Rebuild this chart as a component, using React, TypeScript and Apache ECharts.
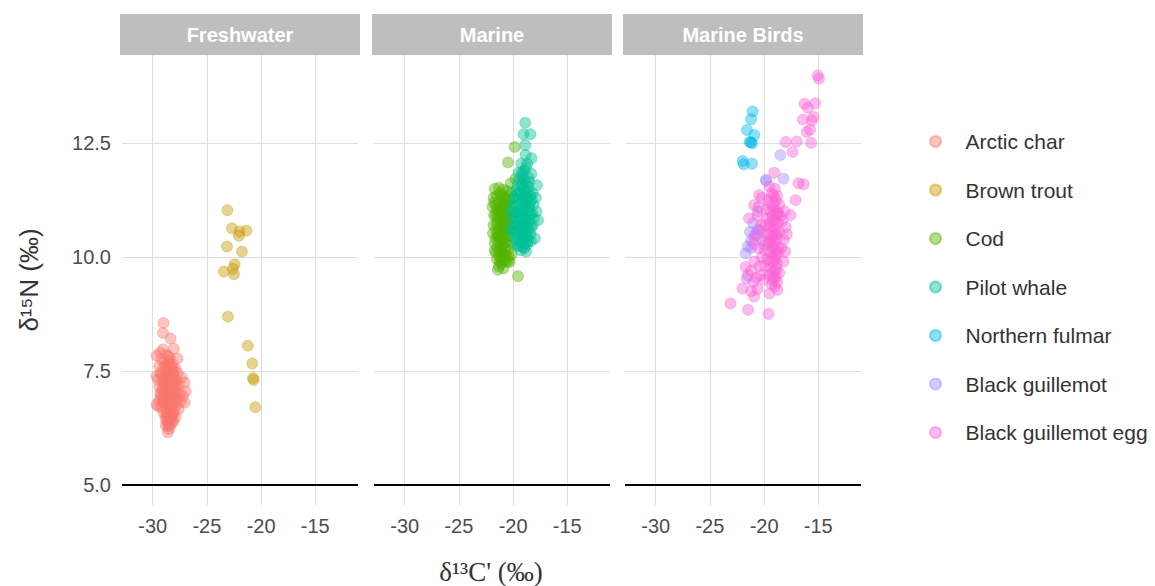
import React, { useEffect, useRef } from "react";
import * as echarts from "echarts";

const panelNames = ["Freshwater", "Marine", "Marine Birds"];
const speciesNames = [
  "Arctic char",
  "Brown trout",
  "Cod",
  "Pilot whale",
  "Northern fulmar",
  "Black guillemot",
  "Black guillemot egg",
];
const speciesColors = ["#F8766D", "#C49A00", "#53B400", "#00C094", "#00B6EB", "#A58AFF", "#FB61D7"];
const speciesPanel = [0, 0, 1, 1, 2, 2, 2];
const xTicks = [-30, -25, -20, -15];
const yTicks = [5, 7.5, 10, 12.5];
const hLineValue = 5;

const arcticChar: number[][] = [
  [-29.0, 8.55], [-29.05, 8.33], [-28.35, 8.21], [-28.05, 7.99], [-29.05, 7.97], [-29.65, 7.83], [-27.7, 7.77],
  [-29.3, 7.9], [-28.7, 7.85], [-29.65, 7.38], [-29.65, 6.76], [-29.5, 6.72], [-27.05, 7.24], [-26.95, 7.05],
  [-27.05, 6.8], [-27.2, 6.95], [-27.3, 7.35], [-28.6, 6.15], [-28.4, 6.29], [-28.2, 6.35], [-28.8, 6.3],
  [-29.2, 7.75], [-28.9, 7.7], [-28.5, 7.72], [-28.2, 7.65], [-29.4, 7.6], [-29.0, 7.55], [-28.6, 7.5],
  [-28.3, 7.52], [-27.9, 7.55], [-29.3, 7.45], [-28.9, 7.4], [-28.5, 7.38], [-28.1, 7.42], [-27.8, 7.3],
  [-29.5, 7.3], [-29.1, 7.28], [-28.7, 7.25], [-28.3, 7.2], [-27.6, 7.2], [-29.4, 7.15], [-29.0, 7.12],
  [-28.6, 7.1], [-28.2, 7.05], [-27.9, 7.08], [-27.5, 7.0], [-29.3, 7.0], [-28.9, 6.98], [-28.5, 6.95],
  [-28.1, 6.9], [-27.7, 6.88], [-29.4, 6.85], [-29.0, 6.82], [-28.6, 6.8], [-28.3, 6.78], [-27.8, 6.75],
  [-27.4, 6.82], [-29.2, 6.7], [-28.8, 6.68], [-28.4, 6.65], [-28.0, 6.62], [-27.6, 6.65], [-29.0, 6.58],
  [-28.6, 6.55], [-28.2, 6.5], [-27.9, 6.48], [-28.8, 6.45], [-28.4, 6.42], [-28.1, 6.4], [-28.6, 6.35],
  [-28.5, 6.22], [-28.8, 7.6], [-28.4, 7.6], [-28.0, 7.3], [-28.8, 7.15], [-28.4, 7.0], [-28.7, 6.9],
  [-28.2, 6.7], [-28.9, 7.0], [-28.5, 7.3], [-28.3, 6.85], [-28.7, 6.6], [-28.0, 7.15], [-29.1, 6.9],
  [-28.3, 7.45], [-27.7, 7.45], [-29.2, 7.4], [-28.6, 7.65], [-28.1, 6.55], [-27.8, 6.9], [-28.4, 6.9],
  [-28.75, 7.48], [-28.45, 7.18], [-28.15, 7.28], [-28.65, 7.02], [-28.35, 6.92], [-28.85, 6.78],
  [-28.55, 6.62], [-28.25, 6.6], [-28.05, 6.82], [-28.75, 6.52], [-28.45, 6.5], [-28.95, 7.22],
  [-28.15, 7.58], [-28.55, 7.82], [-28.85, 7.32], [-28.25, 6.98], [-27.95, 7.0], [-28.5, 6.72],
  [-28.9, 6.88], [-28.3, 6.45], [-28.65, 7.38], [-29.15, 7.08], [-28.05, 7.48], [-28.4, 7.78],
  [-28.7, 6.42], [-28.35, 7.35], [-27.85, 7.2], [-29.25, 6.95], [-28.6, 6.28], [-28.2, 7.12],
];

const brownTrout: number[][] = [
  [-23.11, 11.03], [-22.69, 10.63], [-21.98, 10.56], [-21.36, 10.58], [-22.04, 10.47], [-23.15, 10.23],
  [-21.77, 10.12], [-22.44, 9.84], [-22.6, 9.74], [-23.43, 9.68], [-22.5, 9.62], [-23.06, 8.69],
  [-21.22, 8.05], [-20.81, 7.66], [-20.75, 7.34], [-20.69, 7.3], [-20.53, 6.7],
];

const cod: number[][] = [
  [-19.85, 12.42], [-20.47, 12.08], [-19.77, 11.72], [-20.2, 11.62], [-19.55, 9.58], [-21.31, 9.79],
  [-21.4, 9.72], [-20.32, 9.89], [-21.1, 9.85], [-20.9, 9.75],
  [-21.7, 11.5], [-21.3, 11.52], [-20.9, 11.48], [-20.5, 11.45], [-20.2, 11.4],
  [-21.8, 11.3], [-21.5, 11.35], [-21.1, 11.28], [-20.7, 11.32], [-20.3, 11.25], [-20.0, 11.3],
  [-21.9, 11.1], [-21.6, 11.15], [-21.2, 11.08], [-20.8, 11.12], [-20.4, 11.05], [-20.1, 11.1],
  [-21.75, 10.92], [-21.4, 10.88], [-21.0, 10.95], [-20.6, 10.9], [-20.25, 10.85],
  [-21.8, 10.7], [-21.5, 10.72], [-21.15, 10.68], [-20.75, 10.7], [-20.4, 10.65], [-20.05, 10.72],
  [-21.85, 10.52], [-21.45, 10.48], [-21.05, 10.55], [-20.7, 10.5], [-20.3, 10.45],
  [-21.7, 10.3], [-21.35, 10.32], [-20.95, 10.28], [-20.6, 10.35], [-20.2, 10.3],
  [-21.6, 10.1], [-21.25, 10.12], [-20.85, 10.08], [-20.5, 10.15], [-20.15, 10.05],
  [-21.5, 9.95], [-21.1, 9.98], [-20.7, 9.92], [-20.4, 10.0],
  [-21.2, 11.4], [-20.8, 11.2], [-21.0, 10.8], [-20.5, 10.6], [-21.3, 10.6], [-20.9, 10.4], [-21.1, 10.2],
  [-20.6, 11.0], [-21.6, 10.9], [-20.3, 10.9], [-21.4, 11.0], [-20.8, 10.0], [-21.0, 11.35], [-21.6, 10.4],
  [-20.45, 11.2],
  [-21.3, 11.2], [-20.95, 11.15], [-20.65, 11.25], [-21.45, 10.78], [-21.15, 10.85], [-20.85, 10.82],
  [-20.55, 10.78], [-21.55, 10.58], [-21.2, 10.45], [-20.85, 10.55], [-20.55, 10.45], [-21.4, 10.2],
  [-21.0, 10.1], [-20.7, 10.2], [-21.3, 10.02], [-20.95, 9.9], [-20.65, 10.05], [-21.05, 11.05],
  [-20.75, 10.95], [-21.25, 10.95], [-21.5, 11.05], [-20.9, 10.68], [-21.35, 10.45], [-20.6, 10.62],
  [-21.1, 10.38], [-20.8, 10.3], [-21.7, 10.15], [-21.2, 9.9], [-20.5, 9.9], [-21.75, 11.2],
];

const pilotWhale: number[][] = [
  [-18.88, 12.95], [-19.04, 12.7], [-18.4, 12.7], [-18.88, 12.46], [-18.85, 12.24], [-18.3, 12.17],
  [-19.24, 12.05], [-18.8, 11.97], [-19.12, 11.8], [-18.32, 11.83], [-18.5, 11.65], [-17.8, 11.58],
  [-18.0, 10.41], [-18.8, 10.12], [-17.85, 11.0], [-17.7, 10.81], [-19.3, 10.15], [-19.6, 10.25],
  [-19.6, 11.6], [-19.2, 11.55], [-18.8, 11.62],
  [-19.8, 11.45], [-19.4, 11.42], [-19.0, 11.48], [-18.6, 11.45], [-18.2, 11.4],
  [-19.9, 11.3], [-19.5, 11.28], [-19.1, 11.32], [-18.7, 11.3], [-18.3, 11.25], [-17.9, 11.3],
  [-20.0, 11.15], [-19.7, 11.12], [-19.3, 11.18], [-18.9, 11.15], [-18.5, 11.1], [-18.1, 11.15],
  [-19.85, 11.0], [-19.45, 10.98], [-19.05, 11.02], [-18.65, 11.0], [-18.25, 10.95],
  [-20.1, 10.85], [-19.7, 10.82], [-19.3, 10.88], [-18.9, 10.85], [-18.5, 10.8], [-18.1, 10.85],
  [-19.9, 10.7], [-19.5, 10.68], [-19.1, 10.72], [-18.7, 10.7], [-18.3, 10.65],
  [-20.0, 10.55], [-19.6, 10.52], [-19.2, 10.58], [-18.8, 10.55], [-18.4, 10.5],
  [-19.8, 10.4], [-19.4, 10.38], [-19.0, 10.42], [-18.6, 10.35],
  [-19.5, 10.25], [-19.1, 10.22], [-18.7, 10.28],
  [-19.4, 11.7], [-19.0, 11.7], [-18.6, 11.75], [-19.2, 10.95], [-18.8, 11.2], [-19.6, 10.95], [-18.4, 11.35],
  [-19.0, 10.6], [-18.6, 10.9], [-19.3, 11.4], [-18.2, 10.7], [-19.7, 10.3], [-20.2, 11.0], [-20.2, 10.6],
  [-18.9, 10.3], [-19.2, 11.85], [-18.7, 12.05],
  [-19.35, 11.05], [-19.0, 11.2], [-18.75, 11.08], [-19.55, 10.78], [-19.2, 10.68], [-18.85, 10.72],
  [-18.55, 10.62], [-19.4, 10.5], [-19.05, 10.45], [-18.7, 10.45], [-19.25, 10.32], [-18.95, 10.2],
  [-19.6, 11.38], [-19.15, 11.6], [-18.8, 11.4], [-18.45, 11.2], [-19.75, 10.6], [-18.35, 10.35],
  [-19.5, 11.85], [-18.95, 11.9], [-18.6, 11.55], [-19.0, 10.85], [-18.4, 10.95], [-19.35, 10.62],
];

const northernFulmar: number[][] = [
  [-21.06, 13.2], [-21.2, 13.03], [-21.58, 12.79], [-20.9, 12.68], [-21.34, 12.53], [-21.12, 12.5],
  [-21.98, 12.11], [-21.89, 12.04], [-21.12, 12.05], [-21.2, 12.52],
];

const blackGuillemot: number[][] = [
  [-18.5, 12.24], [-19.83, 11.7], [-18.2, 11.72], [-19.8, 11.67], [-20.6, 11.0], [-21.0, 10.74],
  [-20.6, 10.59], [-21.2, 10.37], [-21.5, 10.23], [-21.7, 10.08], [-20.03, 10.26], [-21.6, 9.53],
  [-20.6, 10.48], [-20.9, 10.45], [-21.3, 10.55], [-20.4, 10.6], [-21.2, 10.2],
];

const guillemotEgg: number[][] = [
  [-15.05, 13.99], [-14.93, 13.92], [-16.27, 13.37], [-15.29, 13.38], [-15.96, 13.28], [-15.44, 13.08],
  [-16.42, 13.02], [-15.6, 13.0], [-15.75, 12.8], [-16.07, 12.75], [-15.66, 12.51], [-18.0, 12.53],
  [-16.98, 12.54], [-17.37, 12.31], [-19.06, 11.85], [-16.82, 11.62], [-16.36, 11.6],
  [-20.46, 11.36], [-20.92, 11.14], [-17.1, 11.25], [-17.56, 10.92], [-18.0, 10.66], [-21.4, 10.85],
  [-18.2, 10.38], [-18.05, 10.12], [-21.7, 9.78], [-22.0, 9.31], [-20.92, 9.13], [-18.77, 9.28],
  [-23.1, 8.98], [-21.48, 8.84], [-19.58, 8.75],
  [-19.5, 11.55], [-19.0, 11.5], [-19.3, 11.4], [-18.8, 11.35], [-19.6, 11.25], [-19.1, 11.2], [-18.6, 11.15],
  [-19.8, 11.05], [-19.4, 11.0], [-18.9, 10.95], [-18.5, 10.9], [-19.7, 10.85], [-19.2, 10.8], [-18.7, 10.75],
  [-19.9, 10.7], [-19.5, 10.65], [-19.0, 10.6], [-18.6, 10.55], [-19.8, 10.5], [-19.3, 10.45], [-18.8, 10.4],
  [-20.1, 10.35], [-19.6, 10.3], [-19.1, 10.25], [-18.7, 10.2], [-19.9, 10.15], [-19.4, 10.1], [-18.9, 10.05],
  [-20.2, 10.0], [-19.7, 9.95], [-19.2, 9.9], [-18.8, 9.85], [-19.9, 9.8], [-19.4, 9.75], [-19.0, 9.7],
  [-18.6, 9.65], [-19.6, 9.6], [-19.1, 9.55], [-18.8, 9.45], [-19.3, 9.4], [-19.0, 9.35], [-18.9, 9.55],
  [-20.6, 10.9], [-20.3, 10.7], [-20.8, 10.5], [-20.5, 10.2], [-20.9, 9.9], [-20.4, 9.8], [-21.2, 9.7],
  [-20.7, 9.55], [-21.0, 9.45], [-20.6, 9.3], [-21.2, 9.25], [-20.3, 9.6], [-20.5, 11.1], [-20.2, 11.3],
  [-21.0, 10.3], [-21.5, 9.6], [-20.0, 9.5], [-19.5, 9.2],
  [-18.3, 10.8], [-18.1, 11.0], [-18.4, 10.2], [-18.2, 9.9], [-17.9, 10.5],
  [-19.35, 11.15], [-19.05, 11.05], [-18.75, 11.0], [-19.25, 10.9], [-18.95, 10.8], [-19.15, 10.65],
  [-18.85, 10.5], [-19.45, 10.35], [-19.05, 10.35], [-19.25, 10.2], [-18.95, 10.15], [-19.15, 10.0],
  [-19.45, 9.9], [-18.95, 9.95], [-19.25, 9.65], [-18.85, 9.75], [-19.55, 10.5], [-18.7, 10.95],
  [-19.15, 11.35], [-18.9, 11.25], [-19.4, 10.75], [-19.0, 10.5], [-18.7, 10.1], [-19.2, 9.5],
];

const speciesData = [arcticChar, brownTrout, cod, pilotWhale, northernFulmar, blackGuillemot, guillemotEgg];

function rgba(hex: string, a: number) {
  const r = parseInt(hex.slice(1, 3), 16);
  const g = parseInt(hex.slice(3, 5), 16);
  const b = parseInt(hex.slice(5, 7), 16);
  return `rgba(${r},${g},${b},${a})`;
}

const FONT = "'Liberation Sans', Arial, sans-serif";

export default function App() {
  const ref = useRef<HTMLDivElement>(null);
  useEffect(() => {
    if (!ref.current) return;
    const chart = echarts.init(ref.current, null, { renderer: "svg" });
    const panelLeft = [122, 374, 625];
    const panelWidth = 236;
    const top = 55;
    const height = 450;

    const grids = panelLeft.map((l) => ({ left: l, top, width: panelWidth, height, containLabel: false }));
    const xAxes = panelLeft.map((_, i) => ({
      type: "value",
      gridIndex: i,
      min: -32.83,
      max: -11.06,
      axisLine: { show: false },
      axisTick: { show: false, customValues: xTicks },
      axisLabel: {
        customValues: xTicks,
        color: "#4d4d4d",
        fontSize: 20,
        fontFamily: FONT,
        margin: 11,
      },
      splitLine: { show: true, lineStyle: { color: "#dedede", width: 1 } },
    }));
    const yAxes = panelLeft.map((_, i) => ({
      type: "value",
      gridIndex: i,
      min: 4.55,
      max: 14.44,
      axisLine: { show: false },
      axisTick: { show: false, customValues: yTicks },
      axisLabel: {
        show: i === 0,
        customValues: yTicks,
        color: "#4d4d4d",
        fontSize: 20,
        fontFamily: FONT,
        margin: 11,
        formatter: (v: number) => v.toFixed(1),
      },
      splitLine: { show: true, lineStyle: { color: "#dedede", width: 1 } },
    }));

    const firstInPanel = new Set<number>();
    const seen = new Set<number>();
    speciesPanel.forEach((p, i) => {
      if (!seen.has(p)) {
        seen.add(p);
        firstInPanel.add(i);
      }
    });

    const series = speciesNames.map((name, i) => ({
      type: "scatter",
      name,
      data: speciesData[i],
      xAxisIndex: speciesPanel[i],
      yAxisIndex: speciesPanel[i],
      symbol: "circle",
      symbolSize: 11,
      silent: true,
      itemStyle: {
        color: rgba(speciesColors[i], 0.55),
        borderColor: rgba(speciesColors[i], 0.55),
        borderWidth: 0.8,
      },
      markLine: firstInPanel.has(i)
        ? {
            silent: true,
            symbol: ["none", "none"],
            label: { show: false },
            lineStyle: { color: "#000", width: 2, type: "solid" },
            data: [{ yAxis: hLineValue }],
          }
        : undefined,
    }));

    const graphic: any[] = [];
    panelLeft.forEach((l, i) => {
      graphic.push({
        type: "rect",
        shape: { x: l - 2, y: 14, width: panelWidth + 4, height: 41 },
        style: { fill: "#bebebe" },
        silent: true,
      });
      graphic.push({
        type: "text",
        x: l + panelWidth / 2,
        y: 35,
        style: {
          text: panelNames[i],
          fill: "#ffffff",
          font: `bold 20px ${FONT}`,
          align: "center",
          verticalAlign: "middle",
        },
        silent: true,
      });
    });
    graphic.push({
      type: "text",
      x: 29,
      y: 280,
      rotation: Math.PI / 2,
      style: {
        text: "δ¹⁵N (‰)",
        fill: "#333",
        font: `26px ${FONT}`,
        align: "center",
        verticalAlign: "middle",
      },
      silent: true,
    });
    graphic.push({
      type: "text",
      x: 491,
      y: 572,
      style: {
        text: "δ¹³C' (‰)",
        fill: "#333",
        font: "27px 'Liberation Serif', 'Times New Roman', serif",
        align: "center",
        verticalAlign: "middle",
      },
      silent: true,
    });

    chart.setOption({
      animation: false,
      backgroundColor: "#ffffff",
      grid: grids,
      xAxis: xAxes,
      yAxis: yAxes,
      legend: {
        orient: "vertical",
        left: 924,
        top: 126,
        itemWidth: 50,
        itemHeight: 11,
        itemGap: 27.5,
        icon: "circle",
        selectedMode: false,
        textStyle: { fontSize: 21, color: "#333", fontFamily: FONT },
        data: speciesNames,
      },
      series,
      graphic,
    });
    return () => chart.dispose();
  }, []);
  return (
    <div
      ref={ref}
      style={{ position: "fixed", left: 0, top: 0, width: 1155, height: 586, background: "#fff" }}
    />
  );
}
